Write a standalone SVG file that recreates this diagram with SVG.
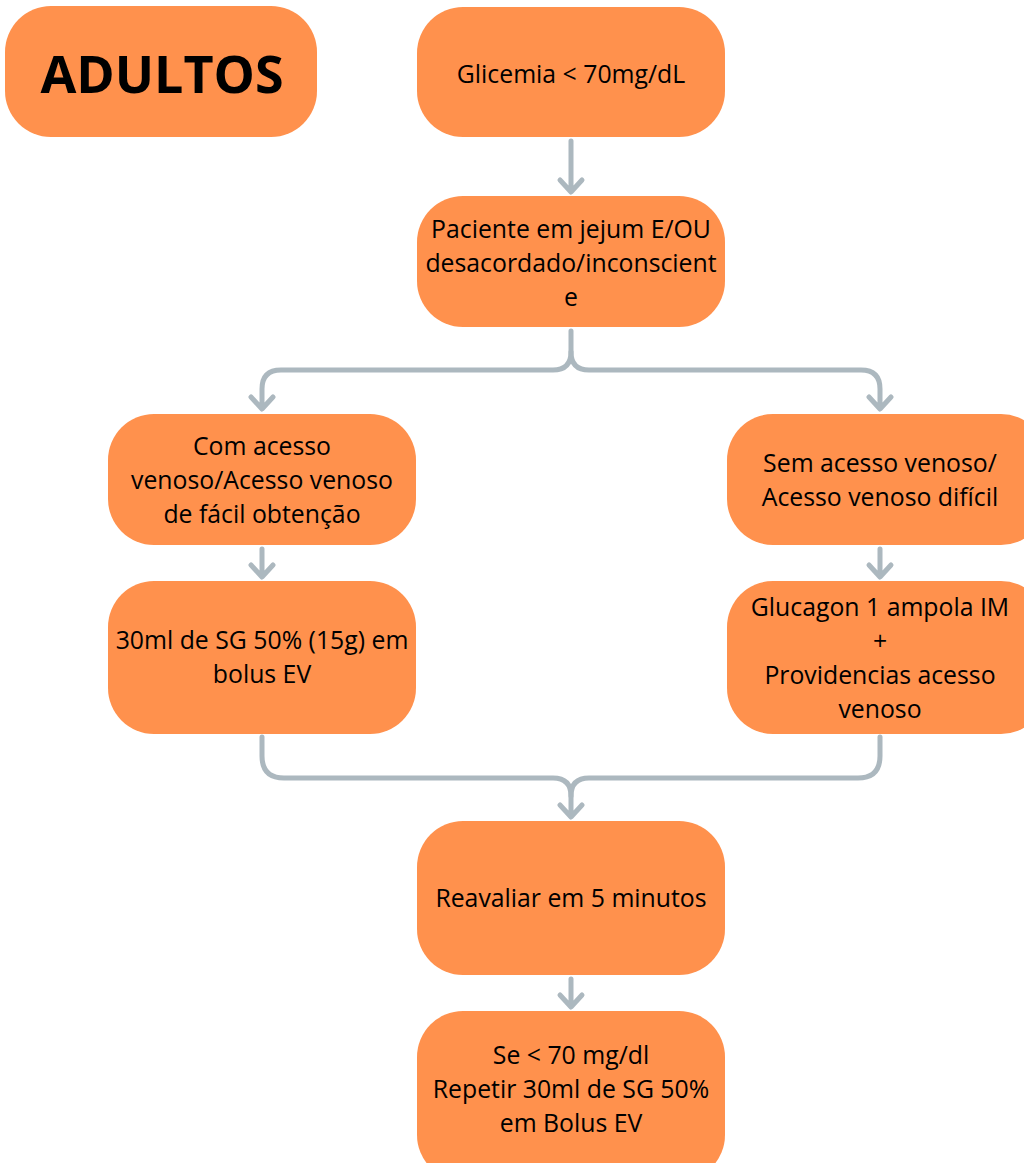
<svg xmlns="http://www.w3.org/2000/svg" width="1024" height="1163" viewBox="0 0 1024 1163">
<defs>
<style>
.box{fill:#FF914D;}
.t{font-family:"Open Sans","Noto Sans",sans-serif;font-size:24.8px;fill:#000;text-anchor:middle;}
.title{font-family:"Open Sans","Noto Sans",sans-serif;font-size:52px;font-weight:bold;fill:#000;text-anchor:middle;}
.c{fill:none;stroke:#ACB8BF;stroke-width:5;stroke-linecap:round;stroke-linejoin:round;}
</style>
</defs>
<rect width="1024" height="1163" fill="#fff"/>
<g id="connectors">
<path class="c" d="M571 141 V191 M560 180 L571 192 L582 180"/>
<path class="c" d="M571 331 V352 Q571 370 553 370 H281 Q262 370 262 389 V408 M251 397 L262 409 L273 397"/>
<path class="c" d="M571 352 Q571 370 589 370 H861 Q880 370 880 389 V408 M869 397 L880 409 L891 397"/>
<path class="c" d="M262 549 V576 M251 565 L262 577 L273 565"/>
<path class="c" d="M880 549 V576 M869 565 L880 577 L891 565"/>
<path class="c" d="M262 737 V756 Q262 778 284 778 H553 Q571 778 571 796 V816 M560 805 L571 817 L582 805"/>
<path class="c" d="M880 737 V756 Q880 778 858 778 H589 Q571 778 571 796"/>
<path class="c" d="M571 979 V1006 M560 995 L571 1007 L582 995"/>
</g>
<g id="adultos"><rect class="box" x="5" y="6" width="312" height="131" rx="46"/><text class="title" x="162" y="93">ADULTOS</text></g>
<g id="glicemia"><rect class="box" x="417" y="7" width="308" height="130" rx="46"/><text class="t" x="571" y="83">Glicemia &lt; 70mg/dL</text></g>
<g id="paciente"><rect class="box" x="417" y="196" width="308" height="131" rx="46"/><text class="t" x="571" y="238">Paciente em jejum E/OU</text><text class="t" x="571" y="272">desacordado/inconscient</text><text class="t" x="571" y="306">e</text></g>
<g id="com-acesso"><rect class="box" x="108" y="414" width="308" height="131" rx="46"/><text class="t" x="262" y="455">Com acesso</text><text class="t" x="262" y="489">venoso/Acesso venoso</text><text class="t" x="262" y="523">de fácil obtenção</text></g>
<g id="sem-acesso"><rect class="box" x="727" y="414" width="320" height="131" rx="46"/><text class="t" x="880" y="472">Sem acesso venoso/</text><text class="t" x="880" y="506">Acesso venoso difícil</text></g>
<g id="sg50"><rect class="box" x="108" y="581" width="308" height="153" rx="46"/><text class="t" x="262" y="649">30ml de SG 50% (15g) em</text><text class="t" x="262" y="683">bolus EV</text></g>
<g id="glucagon"><rect class="box" x="727" y="581" width="320" height="153" rx="46"/><text class="t" x="880" y="616">Glucagon 1 ampola IM</text><text class="t" x="880" y="650">+</text><text class="t" x="880" y="684">Providencias acesso</text><text class="t" x="880" y="718">venoso</text></g>
<g id="reavaliar"><rect class="box" x="417" y="821" width="308" height="154" rx="46"/><text class="t" x="571" y="907">Reavaliar em 5 minutos</text></g>
<g id="repetir"><rect class="box" x="417" y="1011" width="308" height="170" rx="46"/><text class="t" x="571" y="1064">Se &lt; 70 mg/dl</text><text class="t" x="571" y="1098">Repetir 30ml de SG 50%</text><text class="t" x="571" y="1132">em Bolus EV</text></g>
</svg>
